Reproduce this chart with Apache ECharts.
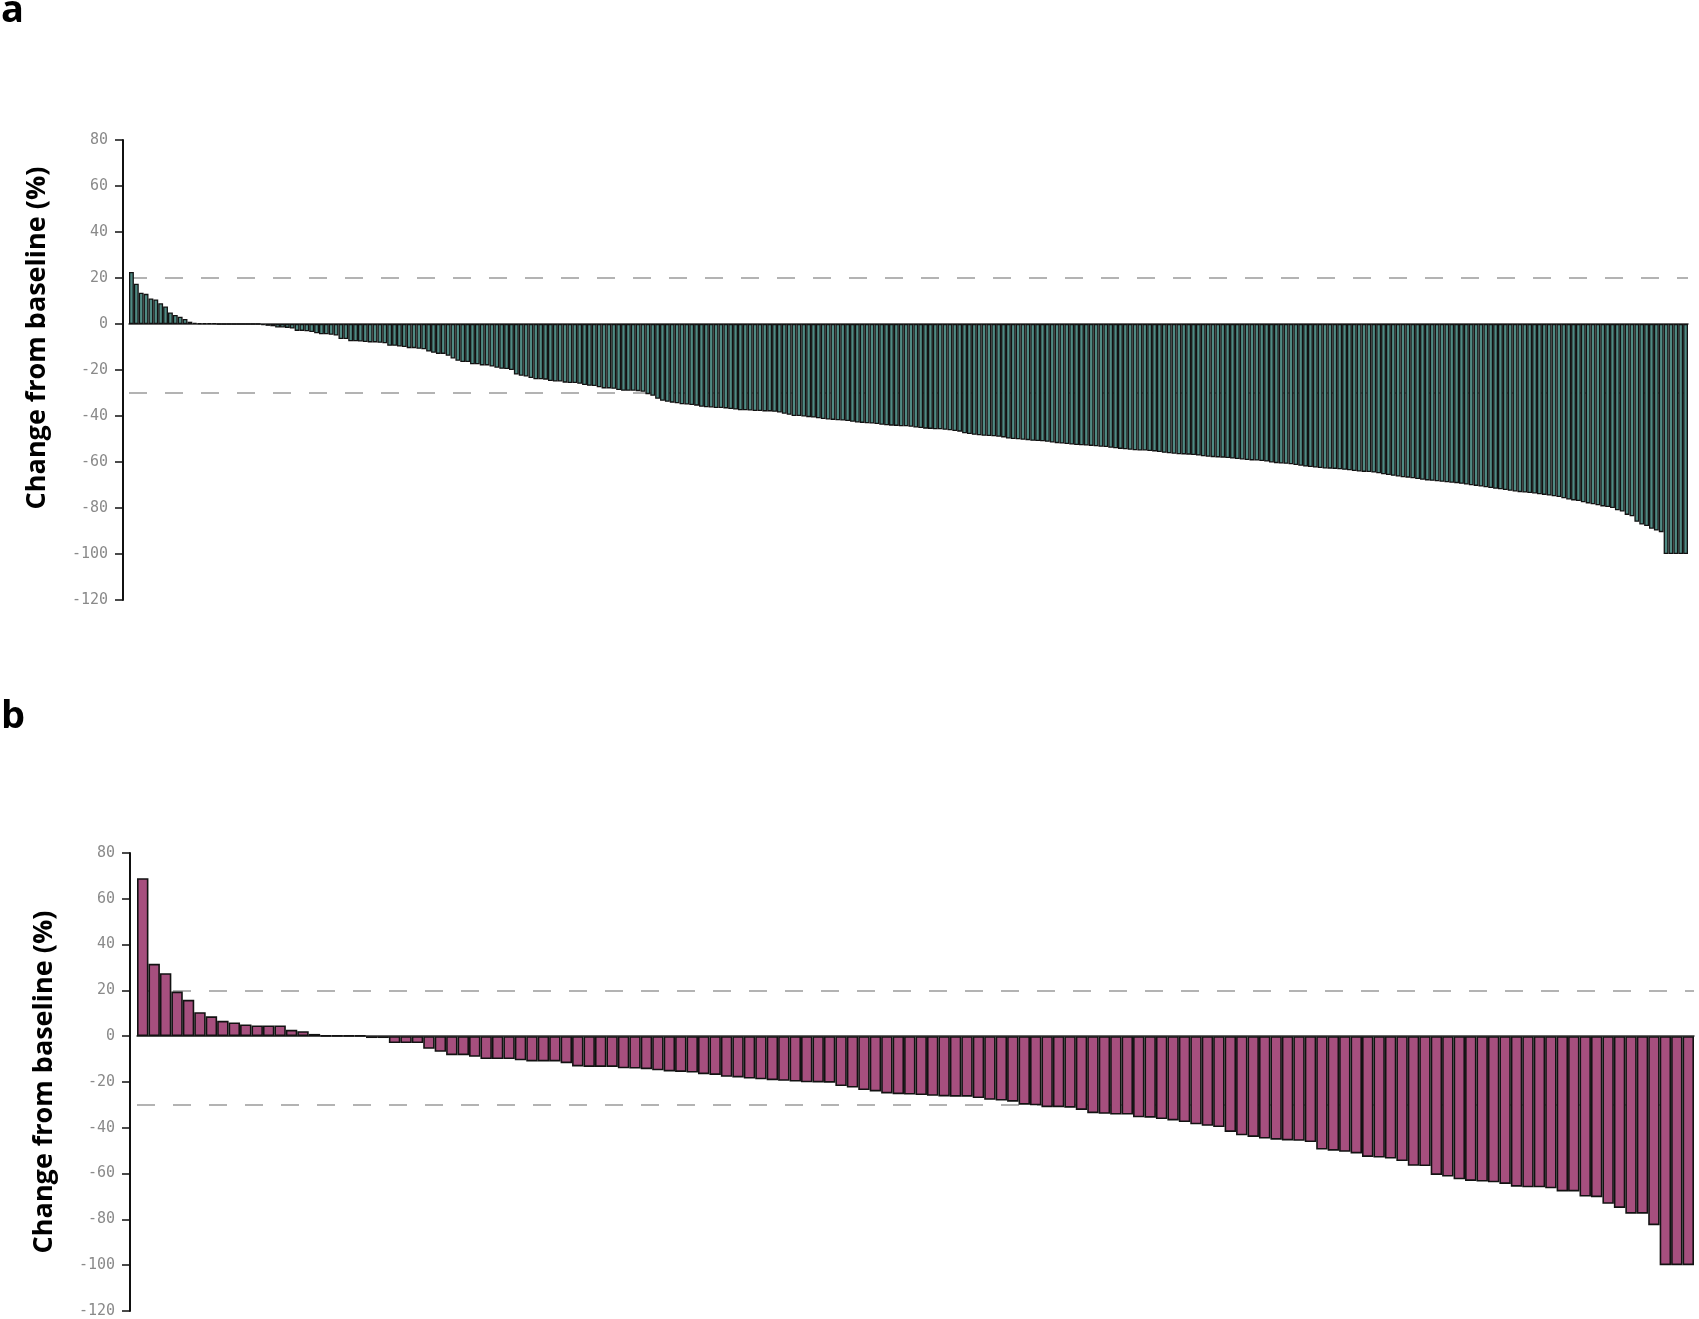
<!DOCTYPE html>
<html>
<head>
<meta charset="utf-8">
<title>Change from baseline waterfall</title>
<script src="https://cdn.jsdelivr.net/npm/echarts@6/dist/echarts.min.js"></script>
<style>
  html, body { margin: 0; padding: 0; background: #fff; }
  #main { width: 1699px; height: 1319px; }
</style>
</head>
<body>
<div id="main"></div>
<script>
// best change from baseline (%) per patient, sorted, panel a
const changeA = [
  22.6, 17.5, 13.6, 13.1, 11.1, 10.7, 9, 7.6, 5, 3.9, 3.2, 2.2, 1,
  0.5, 0.4, 0.4, 0.3, 0.3,
  0, 0, 0, 0, 0, 0, 0, 0, 0,
  -0.5, -0.8, -1, -1.5, -1.5, -1.7, -2, -3, -3, -3.2, -3.5,
  -4, -4.5, -4.5, -4.7, -5, -6.5, -6.5,
  -7.5, -7.5, -7.6, -7.8, -8, -8, -8.2, -8.4,
  -9.5, -9.5, -9.8, -10, -10.5, -10.5, -10.8, -11,
  -12, -12.5, -13, -13, -13.8, -15, -16, -16.5, -16.5,
  -17.5, -17.5, -18, -18, -18.5, -19, -19.5, -19.6, -20,
  -22, -22.5, -22.8, -23.5, -24, -24, -24.2, -24.8, -25, -25,
  -25.5, -25.7, -25.7, -26, -26.5, -26.9, -27, -27.5, -28, -28, -28.2,
  -28.7, -29, -29, -29, -29.2, -29.5, -30.5, -31.2, -32.5, -33.4, -33.8,
  -34.2, -34.5, -34.9, -35, -35.2, -35.5,
  -36, -36.2, -36.3, -36.5, -36.5, -36.7, -37,
  -37.2, -37.5, -37.5, -37.6, -37.8, -37.8, -38, -38, -38.2, -38.5, -39,
  -39.5, -40, -40, -40.2, -40.5, -40.7, -41,
  -41.3, -41.5, -41.7, -41.9, -42, -42.2, -42.5, -42.8,
  -43, -43.2, -43.3, -43.5, -43.8,
  -44, -44.2, -44.3, -44.5, -44.5, -44.7, -45, -45.2,
  -45.5, -45.6, -45.8, -45.8, -46, -46.2, -46.5, -46.8, -47.5, -47.8,
  -48.2, -48.4, -48.6, -48.7, -48.8, -49, -49.3,
  -49.8, -50, -50.1, -50.3, -50.5, -50.8, -50.9, -51, -51.2, -51.5, -51.8,
  -52, -52.2, -52.4, -52.6, -52.7, -52.8, -53, -53.2, -53.4, -53.5, -53.8, -54,
  -54.3, -54.5, -54.7, -54.9, -55, -55, -55.2, -55.4, -55.7,
  -56, -56.2, -56.4, -56.6, -56.7, -56.8, -57, -57.2, -57.5,
  -57.7, -57.9, -58, -58.1, -58.3, -58.5, -58.7, -58.9,
  -59.1, -59.3, -59.4, -59.6, -59.8,
  -60.2, -60.5, -60.7, -60.8, -61, -61.3, -61.6,
  -62, -62.2, -62.4, -62.6, -62.8, -62.9, -63, -63.2, -63.4, -63.6, -63.9,
  -64.1, -64.3, -64.4, -64.6, -64.9, -65.3,
  -65.7, -66, -66.3, -66.6, -66.8, -67.1, -67.4, -67.7, -68,
  -68.2, -68.4, -68.6, -68.8, -69, -69.2, -69.5, -69.8, -70.1, -70.4, -70.7, -71,
  -71.3, -71.6, -71.9, -72.2, -72.5, -72.8, -73.1, -73.3,
  -73.5, -73.7, -74, -74.3, -74.6, -74.9, -75.2,
  -75.8, -76.3, -76.7, -77, -77.5, -78, -78.4, -78.8,
  -79.3, -79.6, -80, -81, -81.5, -83, -83.6, -86, -87.2, -87.8,
  -89, -89.8, -90.5,
  -100, -100, -100, -100, -100
];

// panel b
const changeB = [
  69, 31.6, 27.5, 19.5, 15.9, 10.5, 8.7, 6.7, 6, 5.1, 4.7, 4.7, 4.7, 2.8, 2.2, 1,
  0.3, 0.3, 0.3, 0.3,
  -0.8, -0.8, -3, -3, -3, -5.5, -6.8, -8.3, -8.3, -9,
  -10, -10, -10, -10.5, -11, -11, -11, -11.8, -13.2, -13.4, -13.4, -13.4,
  -14, -14.1, -14.4, -14.9, -15.4, -15.6, -15.9, -16.6, -16.9, -17.7,
  -18, -18.5, -18.8, -19.2, -19.5, -19.8, -20.1, -20.2, -20.3,
  -21.8, -22.4, -23.5, -24.1, -25, -25.3, -25.5, -25.7, -26, -26.3,
  -26.4, -26.4, -27, -27.8, -28.1, -28.6,
  -29.9, -30.2, -31, -31, -31.2,
  -32.2, -33.6, -33.9, -34.2, -34.2, -35.4, -35.6, -36.2, -36.8, -37.5,
  -38.5, -39.1, -39.7, -41.8, -43.3, -44, -44.7, -45.2, -45.5, -45.7, -46.2,
  -49.5, -50, -50.5, -51.2, -52.7, -53, -53.4, -54.5, -56.6, -56.7,
  -60.6, -61.3, -62.5, -63.2, -63.5, -63.8, -64.5, -65.7, -66, -66,
  -66.4, -67.8, -67.8, -70, -70.3, -73.2, -75, -77.5, -77.5, -82.5,
  -100, -100, -100
];

const yMin = -120, yMax = 80, yStep = 20;
const thresholds = [20, -30];   // progression / response cut-offs
const axisTitle = 'Change from baseline (%)';

const patientsA = changeA.map((v, i) => 'A' + (i + 1));
const patientsB = changeB.map((v, i) => 'B' + (i + 1));

const chart = echarts.init(document.getElementById('main'));

function makeYAxis(gridIndex, offset, titlePad) {
  return {
    type: 'value',
    gridIndex: gridIndex,
    min: yMin,
    max: yMax,
    interval: yStep,
    offset: offset,
    axisLine: { show: true, lineStyle: { color: '#111', width: 2 } },
    axisTick: { show: true, length: 8, lineStyle: { color: '#111', width: 1.5 } },
    axisLabel: { color: '#8a8a8a', fontFamily: 'DejaVu Sans Mono', fontSize: 15, margin: 15 },
    splitLine: { show: false },
    name: axisTitle,
    nameLocation: 'middle',
    nameGap: 72,
    nameTextStyle: {
      fontFamily: 'Open Sans', fontSize: 27, fontWeight: 'bold', color: '#000',
      padding: [0, 0, 0, titlePad]
    }
  };
}

function makeXAxis(gridIndex, cats) {
  return {
    type: 'category',
    gridIndex: gridIndex,
    data: cats,
    axisLine: { show: true, onZero: true, lineStyle: { color: '#333', width: 1.5 } },
    axisTick: { show: false },
    axisLabel: { show: false },
    splitLine: { show: false }
  };
}

function makeBars(idx, values, fill, edge) {
  return {
    type: 'bar',
    xAxisIndex: idx,
    yAxisIndex: idx,
    data: values,
    barCategoryGap: '0%',
    z: 3,
    itemStyle: { color: fill, borderColor: '#121212', borderWidth: edge },
    markLine: {
      silent: true,
      symbol: 'none',
      z: 1,
      label: { show: false },
      lineStyle: { color: '#b3b3b3', width: 2, type: [18, 18] },
      data: thresholds.map(v => ({ yAxis: v }))
    }
  };
}

chart.setOption({
  backgroundColor: '#fff',
  animation: false,
  grid: [
    { left: 129, top: 140, right: 11, height: 460 },
    { left: 137, top: 853, right: 5, height: 458 }
  ],
  xAxis: [makeXAxis(0, patientsA), makeXAxis(1, patientsB)],
  yAxis: [makeYAxis(0, 6, 64), makeYAxis(1, 7, 0)],
  series: [
    makeBars(0, changeA, '#4f8a83', 1.3),
    makeBars(1, changeB, '#a64f7e', 1.6)
  ],
  graphic: [
    { type: 'text', left: 1, top: -8, style: { text: 'a', font: 'bold 38px "Open Sans"', fill: '#000' } },
    { type: 'text', left: 1, top: 698, style: { text: 'b', font: 'bold 38px "Open Sans"', fill: '#000' } }
  ]
});
</script>
</body>
</html>
